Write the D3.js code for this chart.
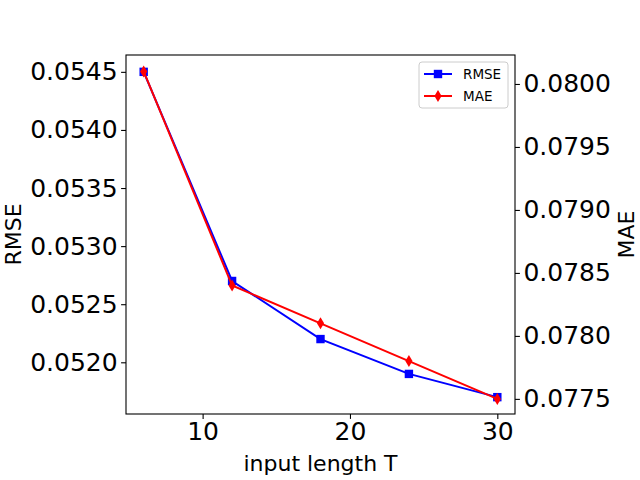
<!DOCTYPE html>
<html>
<head>
<meta charset="utf-8">
<script src="https://d3js.org/d3.v7.min.js"></script>
<style>
  html, body { margin: 0; padding: 0; background: #fff; }
  svg { display: block; font-family: "DejaVu Sans", sans-serif; }
</style>
</head>
<body>
<svg width="640" height="480"></svg>
<script>
  // values
  const inputLength = [6, 12, 18, 24, 30];
  const rmse = [0.0545, 0.0527, 0.0522, 0.0519, 0.0517];
  const mae = [0.0801, 0.0784, 0.0781, 0.0778, 0.0775];
  const xTicks = [10, 20, 30];
  const rmseTicks = [0.0520, 0.0525, 0.0530, 0.0535, 0.0540, 0.0545];
  const maeTicks = [0.0775, 0.0780, 0.0785, 0.0790, 0.0795, 0.0800];

  const svg = d3.select("svg");
  const mLeft = 126, mRight = 515, mTop = 55, mBottom = 414;

  const x = d3.scaleLinear().domain([4.8, 31.2]).range([mLeft, mRight]);
  const yL = d3.scaleLinear().domain([0.051555, 0.054645]).range([mBottom, mTop]);
  const yR = d3.scaleLinear().domain([0.077380, 0.080230]).range([mBottom, mTop]);

  // axes
  const xAxis = svg.append("g").attr("transform", `translate(0,${mBottom})`)
    .call(d3.axisBottom(x).tickValues(xTicks).tickSizeOuter(0).tickSize(4.9).tickPadding(3.5));
  const lAxis = svg.append("g").attr("transform", `translate(${mLeft},0)`)
    .call(d3.axisLeft(yL).tickValues(rmseTicks).tickFormat(d3.format(".4f")).tickSizeOuter(0).tickSize(4.9).tickPadding(3.5));
  const rAxis = svg.append("g").attr("transform", `translate(${mRight},0)`)
    .call(d3.axisRight(yR).tickValues(maeTicks).tickFormat(d3.format(".4f")).tickSizeOuter(0).tickSize(4.9).tickPadding(3.5));

  [xAxis, lAxis, rAxis].forEach(a => {
    a.attr("font-size", null).attr("font-family", null);
    a.select(".domain").remove();
    a.selectAll(".tick line").attr("stroke", "#000").attr("stroke-width", 1.1);
    a.selectAll(".tick text").attr("font-size", 25).attr("fill", "#000")
      .attr("font-family", "DejaVu Sans");
  });

  // frame
  svg.append("rect").attr("x", mLeft).attr("y", mTop)
    .attr("width", mRight - mLeft).attr("height", mBottom - mTop)
    .attr("fill", "none").attr("stroke", "#000").attr("stroke-width", 1.1);

  // axis labels
  svg.append("text").attr("x", (mLeft + mRight) / 2).attr("y", 471)
    .attr("text-anchor", "middle").attr("font-size", 22).text("input length T");
  svg.append("text").attr("transform", `translate(21,${(mTop + mBottom) / 2}) rotate(-90)`)
    .attr("text-anchor", "middle").attr("font-size", 22).text("RMSE");
  svg.append("text").attr("transform", `translate(634,${(mTop + mBottom) / 2}) rotate(-90)`)
    .attr("text-anchor", "middle").attr("font-size", 22).text("MAE");

  const line = ys => d3.line().x((d, i) => x(inputLength[i])).y(d => ys(d));

  // RMSE series
  svg.append("path").datum(rmse).attr("d", line(yL))
    .attr("fill", "none").attr("stroke", "blue").attr("stroke-width", 2);
  svg.append("g").selectAll("rect").data(rmse).join("rect")
    .attr("x", (d, i) => x(inputLength[i]) - 4.2).attr("y", d => yL(d) - 4.2)
    .attr("width", 8.4).attr("height", 8.4).attr("fill", "blue");

  // MAE series
  const diamond = (cx, cy, w, h) => `M${cx},${cy - h}L${cx + w},${cy}L${cx},${cy + h}L${cx - w},${cy}Z`;
  svg.append("path").datum(mae).attr("d", line(yR))
    .attr("fill", "none").attr("stroke", "red").attr("stroke-width", 2);
  svg.append("g").selectAll("path").data(mae).join("path")
    .attr("d", (d, i) => diamond(x(inputLength[i]), yR(d), 3.6, 6))
    .attr("fill", "red");

  // legend
  const lg = svg.append("g").attr("transform", "translate(419,62)");
  lg.append("rect").attr("width", 89).attr("height", 46).attr("rx", 3)
    .attr("fill", "#fff").attr("fill-opacity", 0.8).attr("stroke", "#ccc").attr("stroke-width", 1);
  const items = [["RMSE", "blue", "sq"], ["MAE", "red", "dia"]];
  items.forEach(([name, col, m], i) => {
    const cy = 12 + i * 22;
    lg.append("line").attr("x1", 5).attr("x2", 33).attr("y1", cy).attr("y2", cy)
      .attr("stroke", col).attr("stroke-width", 2);
    if (m === "sq") {
      lg.append("rect").attr("x", 14.8).attr("y", cy - 4.2).attr("width", 8.4).attr("height", 8.4).attr("fill", col);
    } else {
      lg.append("path").attr("d", diamond(19, cy, 3.6, 6)).attr("fill", col);
    }
    lg.append("text").attr("x", 44).attr("y", cy + 5).attr("font-size", 13.5).text(name);
  });
</script>
</body>
</html>
